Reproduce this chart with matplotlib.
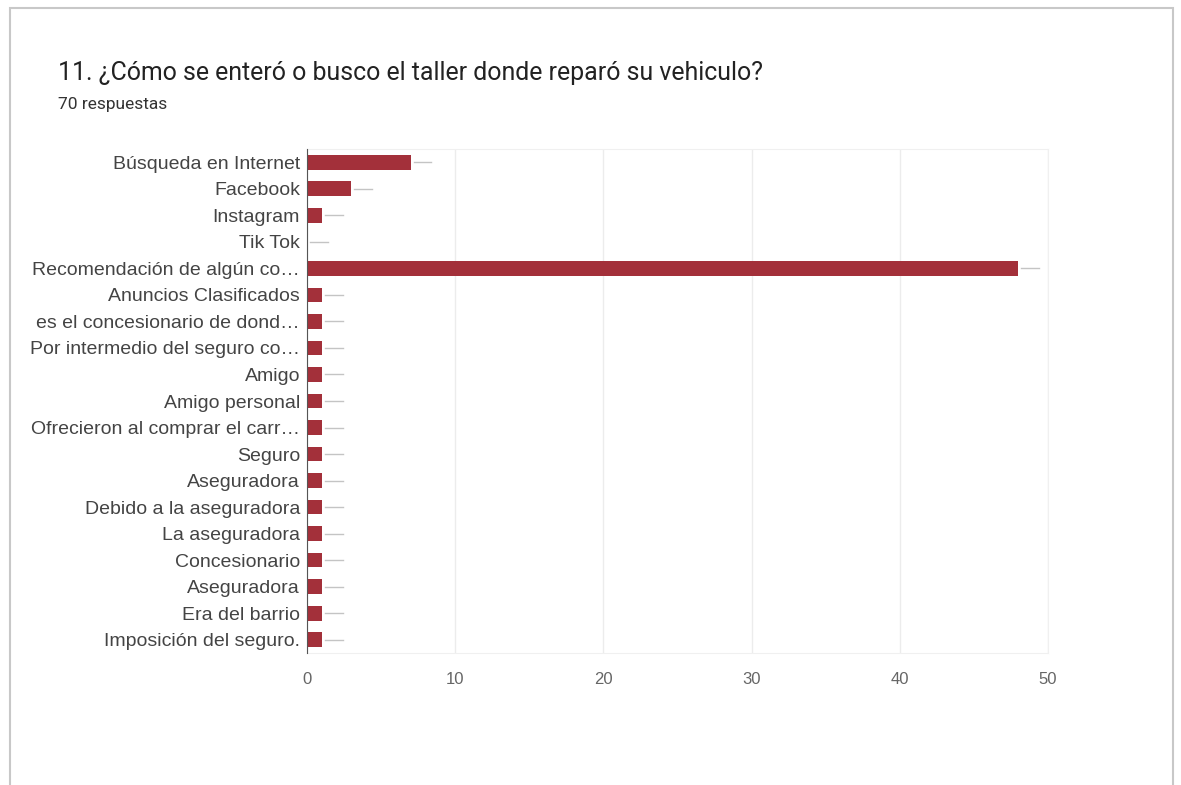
import matplotlib.pyplot as plt
from matplotlib.patches import Rectangle
from matplotlib.transforms import Bbox, TransformedBbox

# data
labels = [
    "Búsqueda en Internet", "Facebook", "Instagram", "Tik Tok",
    "Recomendación de algún co…", "Anuncios Clasificados",
    "es el concesionario de dond…", "Por intermedio del seguro co…",
    "Amigo", "Amigo personal", "Ofrecieron al comprar el carr…",
    "Seguro", "Aseguradora", "Debido a la aseguradora", "La aseguradora",
    "Concesionario", "Aseguradora", "Era del barrio", "Imposición del seguro.",
]
counts = [7, 3, 1, 0, 48, 1, 1, 1, 1, 1, 1, 1, 1, 1, 1, 1, 1, 1, 1]
xticks = [0, 10, 20, 30, 40, 50]
title = "11. ¿Cómo se enteró o busco el taller donde reparó su vehiculo?"
subtitle = "70 respuestas"

plt.rcParams['font.family'] = ['Roboto', 'DejaVu Sans']

fig = plt.figure(figsize=(11.81, 7.85), dpi=100)

# card frame
card = Rectangle((10/1181, -0.05), (1173-10)/1181, 1 - 8/785 + 0.05,
                 transform=fig.transFigure, facecolor='white',
                 edgecolor='#c8c8c8', linewidth=1.5, zorder=-1)
fig.patches.append(card)

ax = fig.add_axes([307/1181, 1 - 653/785, (1048-307)/1181, (653-149)/785])
ax.set_facecolor('none')

y = list(range(len(labels)))
ax.barh(y, counts, height=0.55, color='#a3303a', zorder=3)
# faint lines after each bar (blurred data labels in the original)
for yi, c in zip(y, counts):
    ax.plot([c + 0.2, c + 1.4], [yi, yi], color='#c4c4c4', lw=1, zorder=2)

ax.set_ylim(len(labels) - 0.5, -0.5)
ax.set_xlim(0, 50)
ax.set_yticks(y)
ax.set_yticklabels(labels, fontsize=14, color='#444444',
                   family=['Liberation Sans', 'DejaVu Sans'])
ax.set_xticks(xticks)
ax.set_xticklabels([str(t) for t in xticks], fontsize=12, color='#666666',
                   family=['Liberation Sans', 'DejaVu Sans'])
ax.tick_params(axis='y', length=0, pad=5)
ax.tick_params(axis='x', length=0, pad=14)
ax.grid(axis='x', color='#ececec', lw=1, zorder=0)
for s in ['top', 'right', 'bottom']:
    ax.spines[s].set_color('#f0f0f0')
ax.spines['left'].set_color('#555555')
ax.spines['left'].set_zorder(4)

# labels are cut by the card's left edge
clip = TransformedBbox(Bbox([[28/1181, 0], [1, 1]]), fig.transFigure)
for t in ax.get_yticklabels():
    t.set_clip_on(True)
    t.set_clip_box(clip)

fig.text(58/1181, 1 - 73/785, title, fontsize=17.9, color='#222222', va='center')
fig.text(58/1181, 1 - 104/785, subtitle, fontsize=12.5, color='#333333', va='center')

fig.savefig('out.png', dpi=100)
